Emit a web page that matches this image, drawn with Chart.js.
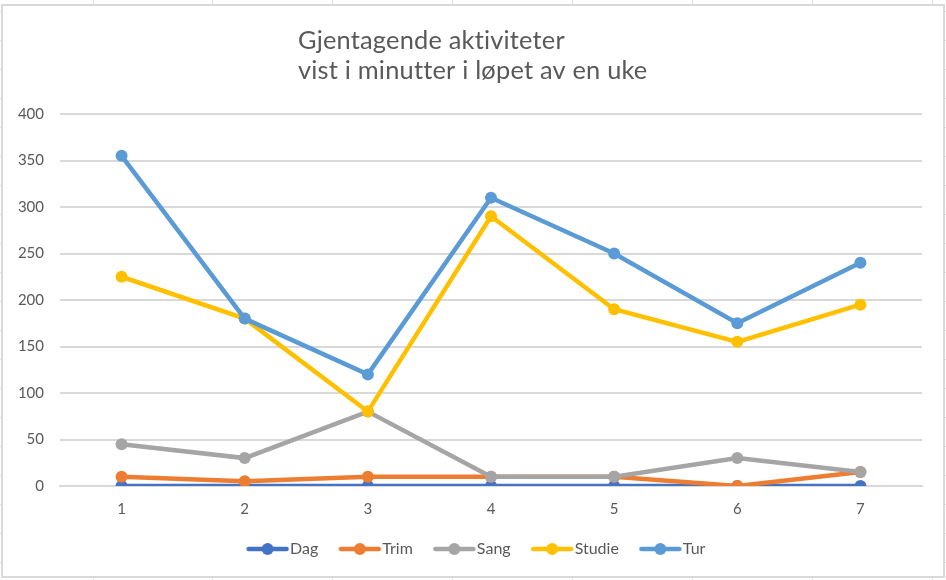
<!DOCTYPE html>
<html>
<head>
<meta charset="utf-8">
<script src="https://cdn.jsdelivr.net/npm/chart.js@4/dist/chart.umd.min.js"></script>
<style>
  html, body { margin: 0; padding: 0; background: #ffffff; }
  #wrap { width: 946px; height: 580px; }
</style>
</head>
<body>
<div id="wrap"><canvas id="c" width="946" height="580"></canvas></div>
<script>
// ---- data ----
const categories = ['1', '2', '3', '4', '5', '6', '7'];
const seriesNames = ['Dag', 'Trim', 'Sang', 'Studie', 'Tur'];
const dag    = [0, 0, 0, 0, 0, 0, 0];
const trim   = [10, 5, 10, 10, 10, 0, 15];
const sang   = [45, 30, 80, 10, 10, 30, 15];
const studie = [225, 180, 80, 290, 190, 155, 195];
const tur    = [355, 180, 120, 310, 250, 175, 240];
const yTicks = [0, 50, 100, 150, 200, 250, 300, 350, 400];
const titleLines = ['Gjentagende aktiviteter', 'vist i minutter i løpet av en uke'];

const colors = ['#4472C4', '#ED7D31', '#A5A5A5', '#FFC000', '#5B9BD5'];
const values = [dag, trim, sang, studie, tur];
const FONT = 'Lato, "Open Sans", "Noto Sans", sans-serif';
const TEXT = '#595959';

// legend marker images (line with a dot), drawn slightly right of the image centre
function markerImage(color) {
  const c = document.createElement('canvas');
  c.width = 56; c.height = 14;
  const g = c.getContext('2d');
  const cx = 28 + 2.5;
  g.strokeStyle = color; g.lineWidth = 4.5; g.lineCap = 'round';
  g.beginPath(); g.moveTo(cx - 19, 7); g.lineTo(cx + 19, 7); g.stroke();
  g.fillStyle = color;
  g.beginPath(); g.arc(cx, 7, 6, 0, Math.PI * 2); g.fill();
  return c;
}
const markers = colors.map(markerImage);

const datasets = seriesNames.map((name, i) => ({
  label: name,
  data: values[i],
  borderColor: colors[i],
  backgroundColor: colors[i],
  borderWidth: 4.5,
  pointRadius: 6,
  pointHoverRadius: 6,
  pointBorderWidth: 0,
  pointBackgroundColor: colors[i],
  tension: 0,
  order: seriesNames.length - i
}));

const backgroundPlugin = {
  id: 'bg',
  beforeDraw(chart) {
    const ctx = chart.ctx;
    ctx.save();
    ctx.fillStyle = '#ffffff';
    ctx.fillRect(0, 0, chart.width, chart.height);
    // spreadsheet cell grid behind the chart object
    ctx.strokeStyle = '#e2e2e2';
    ctx.lineWidth = 1;
    for (let x = 92.5; x < chart.width; x += 119.9) {
      ctx.beginPath(); ctx.moveTo(Math.round(x) + 0.5, 0); ctx.lineTo(Math.round(x) + 0.5, chart.height); ctx.stroke();
    }
    for (let y = 10.5; y < chart.height; y += 29) {
      ctx.beginPath(); ctx.moveTo(0, Math.round(y) + 0.5); ctx.lineTo(chart.width, Math.round(y) + 0.5); ctx.stroke();
    }
    ctx.fillStyle = '#ffffff';
    ctx.fillRect(1, 4, 944, 574);
    ctx.strokeStyle = '#d9d9d9';
    ctx.lineWidth = 2;
    ctx.strokeRect(2, 5, 942, 572);
    ctx.restore();
  }
};

const titlePlugin = {
  id: 'leftTitle',
  afterDraw(chart) {
    const ctx = chart.ctx;
    ctx.save();
    if ('letterSpacing' in ctx) ctx.letterSpacing = '0.2px';
    let size = 24;
    ctx.font = size + 'px ' + FONT;
    const w = ctx.measureText(titleLines[1]).width;
    size = size * 350 / w;
    ctx.font = size + 'px ' + FONT;
    ctx.fillStyle = TEXT;
    ctx.textAlign = 'left';
    ctx.textBaseline = 'alphabetic';
    ctx.fillText(titleLines[0], 298, 49);
    ctx.fillText(titleLines[1], 298, 79);
    ctx.restore();
  }
};

new Chart(document.getElementById('c'), {
  type: 'line',
  data: { labels: categories, datasets },
  options: {
    responsive: false,
    animation: false,
    devicePixelRatio: 1,
    layout: { padding: { left: 7.5, right: 0, top: 114, bottom: 13 } },
    plugins: {
      title: { display: false },
      tooltip: { enabled: false },
      legend: {
        position: 'bottom',
        align: 'center',
        labels: {
          usePointStyle: true,
          pointStyleWidth: 34,
          padding: 22,
          color: TEXT,
          font: { family: FONT, size: 16 },
          sort: (a, b) => a.datasetIndex - b.datasetIndex,
          generateLabels(chart) {
            const items = Chart.defaults.plugins.legend.labels.generateLabels(chart);
            items.forEach(it => { it.pointStyle = markers[it.datasetIndex]; });
            return items;
          }
        }
      }
    },
    scales: {
      x: {
        offset: true,
        grid: { display: false, drawTicks: false },
        border: { display: true, color: '#d9d9d9', width: 2 },
        ticks: { color: TEXT, font: { family: FONT, size: 15 }, padding: 14 },
        afterFit(scale) { scale.height = 33; }
      },
      y: {
        min: 0,
        max: 400,
        afterBuildTicks(scale) { scale.ticks = yTicks.map(v => ({ value: v })); },
        grid: { color: '#d9d9d9', lineWidth: 2, drawTicks: false },
        border: { display: false },
        ticks: { color: TEXT, font: { family: FONT, size: 15 }, padding: 16 },
        afterFit(scale) { scale.width = 52.5; }
      },
      y2: {
        position: 'right',
        display: true,
        grid: { display: false, drawTicks: false },
        border: { display: false },
        ticks: { display: false },
        afterFit(scale) { scale.width = 24; }
      }
    }
  },
  plugins: [backgroundPlugin, titlePlugin]
});
</script>
</body>
</html>
